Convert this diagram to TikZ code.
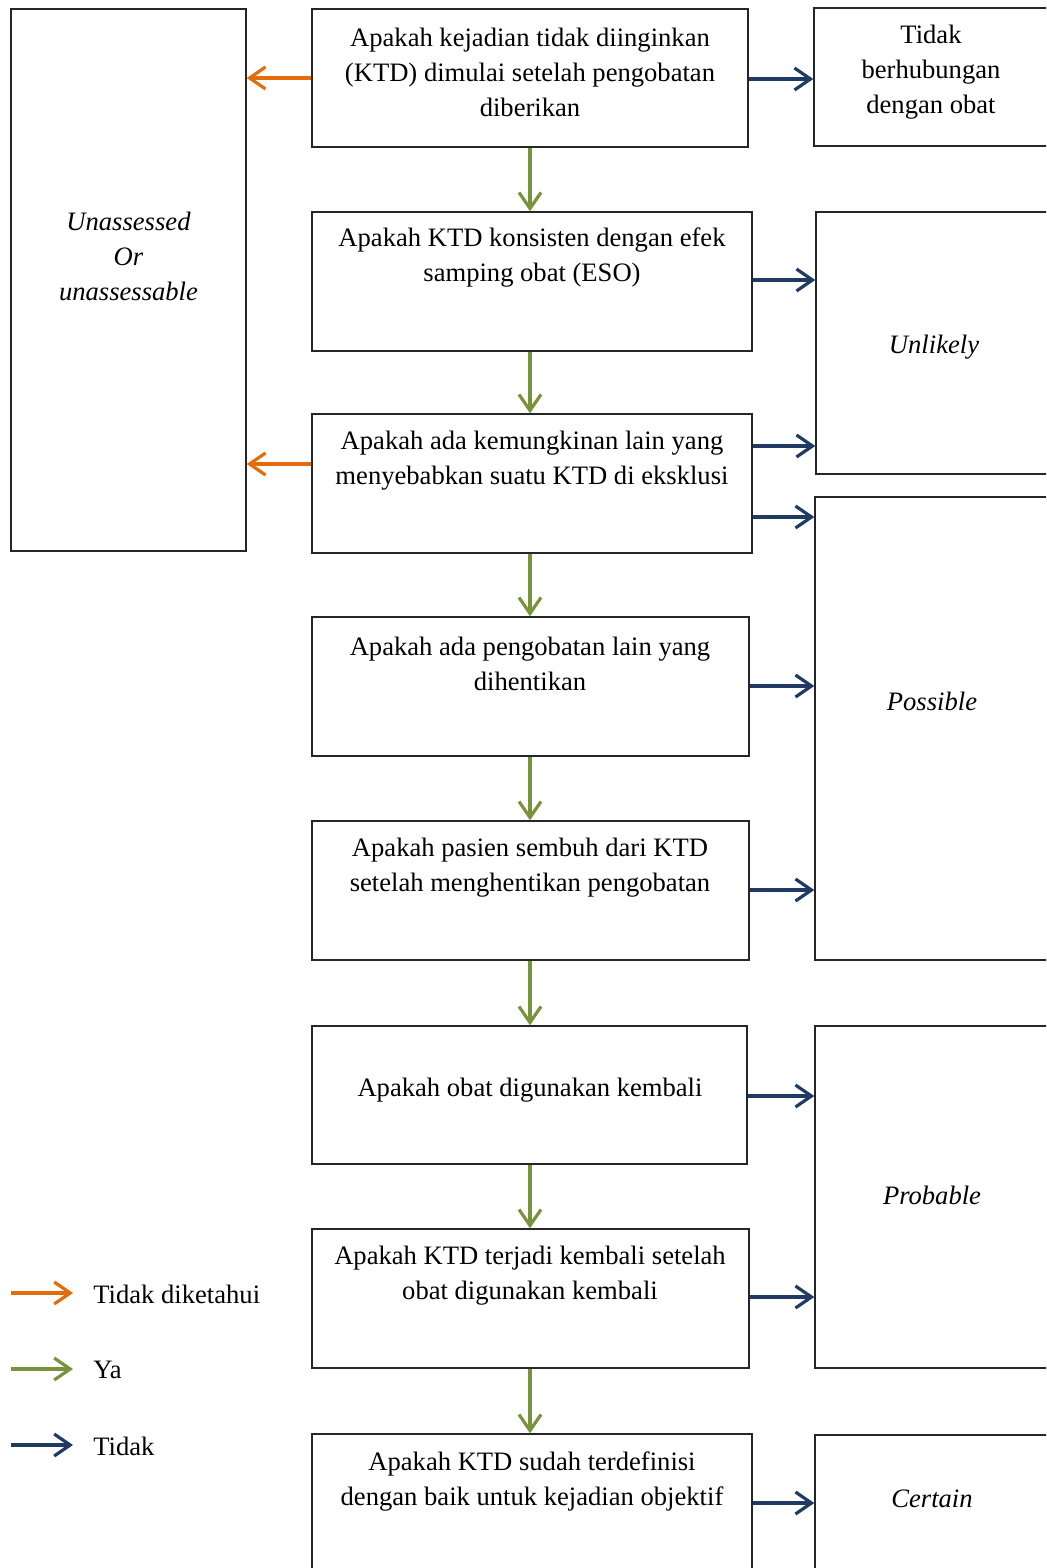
\documentclass[tikz,border=0pt]{standalone}
\usepackage{fontspec}
\setmainfont{Liberation Serif}
\usetikzlibrary{arrows.meta,fit}
\definecolor{arrorange}{HTML}{E46C0A}
\definecolor{arrgreen}{HTML}{77933C}
\definecolor{arrblue}{HTML}{1F3A63}
\begin{document}
\begin{tikzpicture}[x=0.5pt,y=-0.5pt,
  box/.style={draw=black!85, line width=0.7pt, inner sep=0pt},
  txt/.style={align=center, inner sep=0pt, font=\fontsize{13.3}{17.5}\selectfont},
  btxt/.style={txt, yshift=-1.25pt},
  itxt/.style={btxt, font=\fontsize{13.3}{17.5}\selectfont\itshape},
  arr/.style={line width=1.6pt, -{Straight Barb[length=8pt,width=11pt]}},
  oarr/.style={arr, draw=arrorange},
  garr/.style={arr, draw=arrgreen},
  barr/.style={arr, draw=arrblue}]
\path[use as bounding box] (0,0) rectangle (1046,1568);
\clip (0,0) rectangle (1046,1568);

% left box
\node[box, fit={(11,9) (246,551)}] (L) {};
\node[itxt] (Lt) at (128.5,254) {Unassessed\\Or\\unassessable};

% main column
\node[box, fit={(312,9) (748,147)}] (b1) {};
\node[box, fit={(312,212) (752,351)}] (b2) {};
\node[box, fit={(312,414) (752,553)}] (b3) {};
\node[box, fit={(312,617) (749,756)}] (b4) {};
\node[box, fit={(312,821) (749,960)}] (b5) {};
\node[box, fit={(312,1026) (747,1164)}] (b6) {};
\node[box, fit={(312,1229) (749,1368)}] (b7) {};
\node[box, fit={(312,1434) (752,1600)}] (b8) {};

\node[btxt] (t1) at (530,70) {Apakah kejadian tidak diinginkan\\(KTD) dimulai setelah pengobatan\\diberikan};
\node[btxt] (t2) at (532,255.5) {Apakah KTD konsisten dengan efek\\samping obat (ESO)};
\node[btxt] (t3) at (532,458.5) {Apakah ada kemungkinan lain yang\\menyebabkan suatu KTD di eksklusi};
\node[btxt] (t4) at (530,661.5) {Apakah ada pengobatan lain yang\\dihentikan};
\node[btxt] (t5) at (530,865.5) {Apakah pasien sembuh dari KTD\\setelah menghentikan pengobatan};
\node[btxt] (t6) at (530,1088) {Apakah obat digunakan kembali};
\node[btxt] (t7) at (530,1273.5) {Apakah KTD terjadi kembali setelah\\obat digunakan kembali};
\node[btxt] (t8) at (532,1478.5) {Apakah KTD sudah terdefinisi\\dengan baik untuk kejadian objektif};

% right column
\node[box, fit={(814,8) (1050,146)}] (r1) {};
\node[box, fit={(816,212) (1050,474)}] (r2) {};
\node[box, fit={(815,497) (1050,960)}] (r3) {};
\node[box, fit={(815,1026) (1050,1368)}] (r4) {};
\node[box, fit={(815,1435) (1050,1600)}] (r5) {};

\node[btxt] (rt1) at (931,69.5) {Tidak\\berhubungan\\dengan obat};
\node[itxt] (rt2) at (934,345) {Unlikely};
\node[itxt] (rt3) at (932,699) {Possible};
\node[itxt] (rt4) at (932,1193) {Probable};
\node[itxt] (rt5) at (932,1496) {Certain};

% orange arrows
\draw[oarr] (b1.west |- {(0,78)}) -- (L.east |- {(0,78)});
\draw[oarr] (b3.west |- {(0,464)}) -- (L.east |- {(0,464)});

% green arrows
\draw[garr] (b1.south -| {(530,0)}) -- (b2.north -| {(530,0)});
\draw[garr] (b2.south -| {(530,0)}) -- (b3.north -| {(530,0)});
\draw[garr] (b3.south -| {(530,0)}) -- (b4.north -| {(530,0)});
\draw[garr] (b4.south -| {(530,0)}) -- (b5.north -| {(530,0)});
\draw[garr] (b5.south -| {(530,0)}) -- (b6.north -| {(530,0)});
\draw[garr] (b6.south -| {(530,0)}) -- (b7.north -| {(530,0)});
\draw[garr] (b7.south -| {(530,0)}) -- (b8.north -| {(530,0)});

% blue arrows
\draw[barr] (b1.east |- {(0,79)}) -- (r1.west |- {(0,79)});
\draw[barr] (b2.east |- {(0,280)}) -- (r2.west |- {(0,280)});
\draw[barr] (b3.east |- {(0,446)}) -- (r2.west |- {(0,446)});
\draw[barr] (b3.east |- {(0,517)}) -- (r3.west |- {(0,517)});
\draw[barr] (b4.east |- {(0,686)}) -- (r3.west |- {(0,686)});
\draw[barr] (b5.east |- {(0,890)}) -- (r3.west |- {(0,890)});
\draw[barr] (b6.east |- {(0,1096)}) -- (r4.west |- {(0,1096)});
\draw[barr] (b7.east |- {(0,1297)}) -- (r4.west |- {(0,1297)});
\draw[barr] (b8.east |- {(0,1503)}) -- (r5.west |- {(0,1503)});

% legend
\coordinate (lo1) at (11,1293); \coordinate (lo2) at (73,1293);
\coordinate (lg1) at (11,1369); \coordinate (lg2) at (73,1369);
\coordinate (lb1) at (11,1445); \coordinate (lb2) at (73,1445);
\draw[oarr] (lo1) -- (lo2);
\draw[garr] (lg1) -- (lg2);
\draw[barr] (lb1) -- (lb2);
\node[txt, anchor=west] (lto) at (93,1294) {Tidak diketahui};
\node[txt, anchor=west] (ltg) at (93,1370) {Ya};
\node[txt, anchor=west] (ltb) at (93,1446) {Tidak};
\end{tikzpicture}
\end{document}
